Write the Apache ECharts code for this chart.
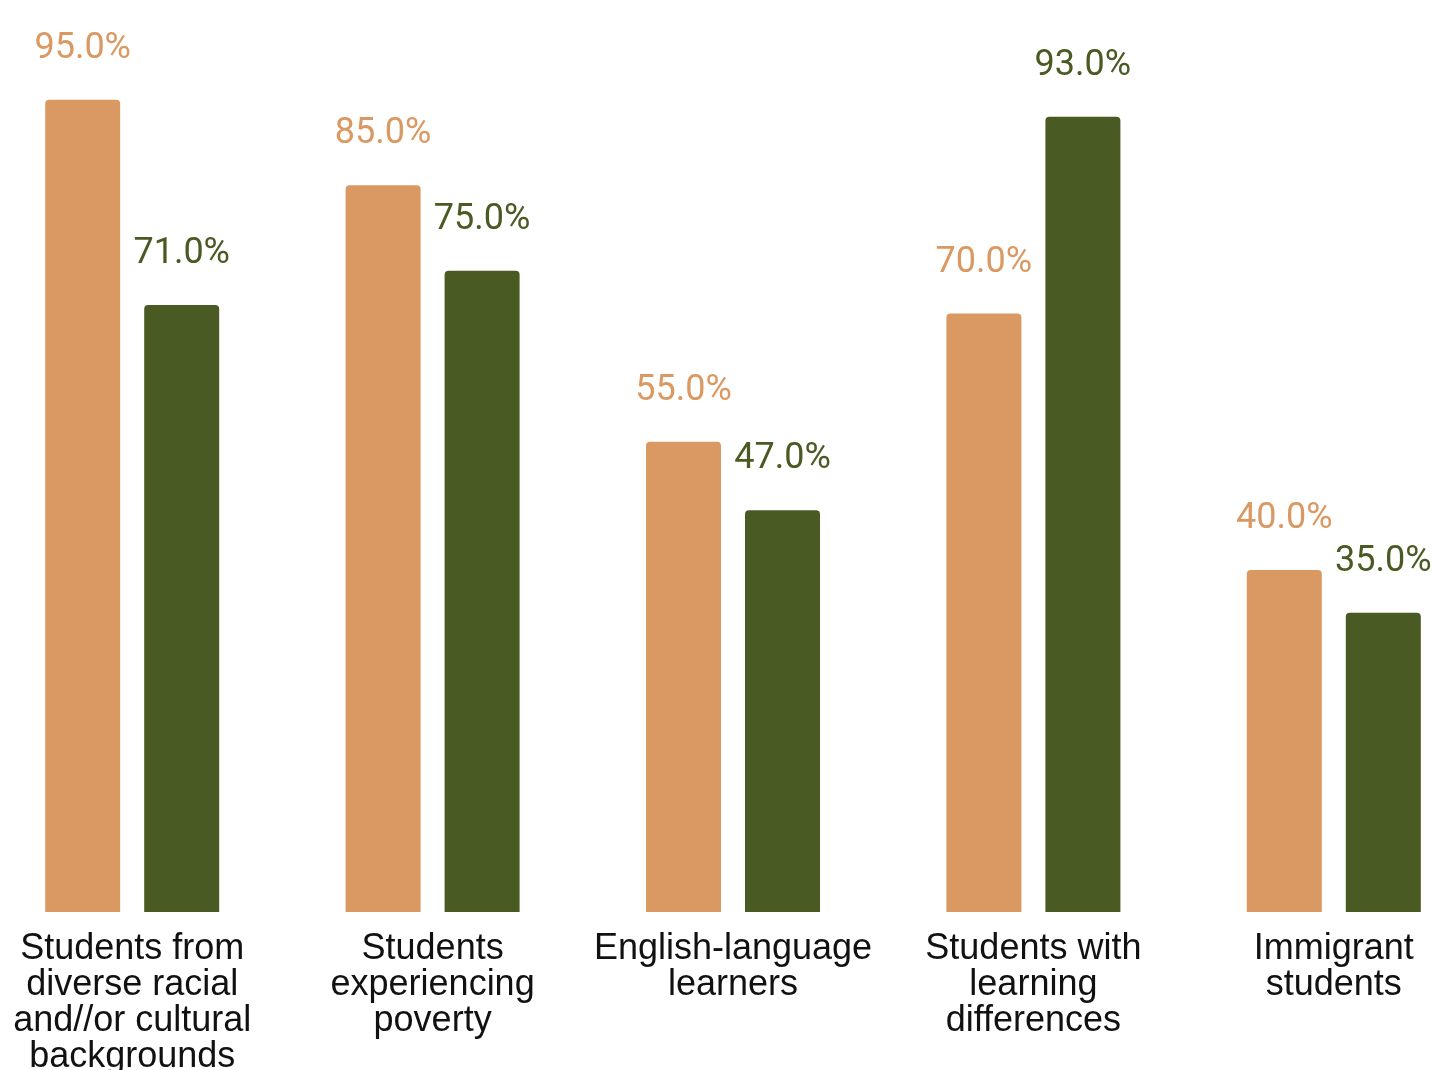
<!DOCTYPE html>
<html>
<head>
<meta charset="utf-8">
<script src="https://cdn.jsdelivr.net/npm/echarts@6/dist/echarts.min.js"></script>
<style>
html,body{margin:0;padding:0;background:#fff;overflow:hidden;width:1435px;height:1070px;}
#chart{width:1502px;height:1070px;margin-left:-18px;}
</style>
</head>
<body>
<div id="chart"></div>
<script>
const categories = [
  "Students from\ndiverse racial\nand//or cultural\nbackgrounds",
  "Students\nexperiencing\npoverty",
  "English-language\nlearners",
  "Students with\nlearning\ndifferences",
  "Immigrant\nstudents"
];
const seriesA = [95, 85, 55, 70, 40];
const seriesB = [71, 75, 47, 93, 35];
const colorA = "#DA9962";
const colorB = "#4A5A23";

const chart = echarts.init(document.getElementById('chart'));
function mkSeries(data, color) {
  return {
    type: 'bar',
    data: data,
    barWidth: 75,
    barGap: '32%',
    itemStyle: { color: color, borderRadius: [4, 4, 0, 0] },
    label: {
      show: true,
      position: 'top',
      distance: 33,
      color: color,
      fontFamily: 'Roboto',
      fontSize: 36,
      formatter: p => p.value.toFixed(1) + '%'
    }
  };
}
chart.setOption({
  animation: false,
  backgroundColor: '#fff',
  grid: { left: 0, right: 0, top: 57, bottom: 158, containLabel: false, outerBoundsMode: 'none' },
  xAxis: {
    type: 'category',
    data: categories,
    axisLine: { show: false },
    axisTick: { show: false },
    axisLabel: {
      interval: 0,
      margin: 19,
      color: '#111',
      fontFamily: 'Liberation Sans',
      fontSize: 36,
      lineHeight: 36,
      align: 'center',
      verticalAlign: 'top'
    }
  },
  yAxis: {
    type: 'value',
    min: 0,
    max: 100,
    show: false,
    splitLine: { show: false }
  },
  series: [mkSeries(seriesA, colorA), mkSeries(seriesB, colorB)]
});
</script>
</body>
</html>
